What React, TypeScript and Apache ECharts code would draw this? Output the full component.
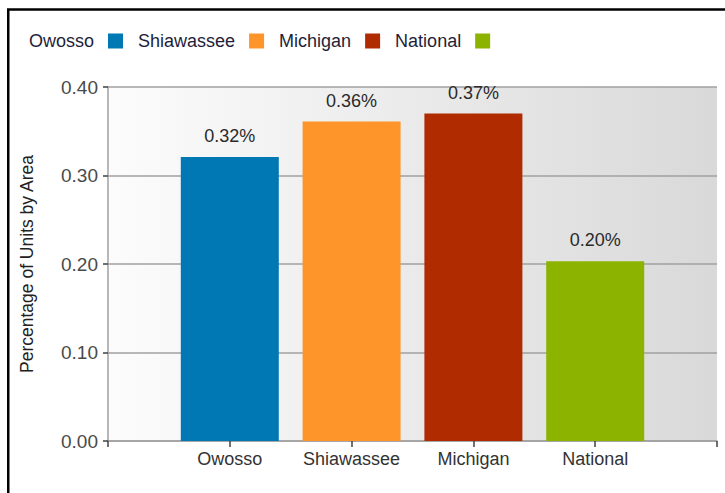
import React, { useEffect, useRef } from "react";
import * as echarts from "echarts";

const categories = ["Owosso", "Shiawassee", "Michigan", "National"];
const values = [0.321, 0.361, 0.37, 0.203];
const colors = ["#0078b4", "#fd952b", "#b02b00", "#8cb300"];
const yTicks = [0, 0.1, 0.2, 0.3, 0.4];
const yAxisTitle = "Percentage of Units by Area";

const FONT = "'Liberation Sans', Arial, sans-serif";

export default function App() {
  const ref = useRef<HTMLDivElement>(null);
  useEffect(() => {
    if (!ref.current) return;
    const chart = echarts.init(ref.current, null, { renderer: "svg" });
    const series = categories.map((name, i) => ({
      name,
      type: "bar",
      stack: "all",
      barWidth: 98,
      data: [[i + 1, values[i]]],
      itemStyle: { color: colors[i] },
      label: {
        show: true,
        position: "top",
        distance: 12,
        fontFamily: FONT,
        fontSize: 18,
        color: "#2a2a2a",
        formatter: (p: any) => p.value[1].toFixed(2) + "%",
      },
    }));
    chart.setOption({
      animation: false,
      backgroundColor: "#ffffff",
      textStyle: { fontFamily: FONT },
      legend: {
        left: 24,
        top: 27,
        align: "right",
        itemWidth: 15,
        itemHeight: 15,
        itemGap: 15,
        icon: "rect",
        data: categories,
        textStyle: {
          fontFamily: FONT,
          fontSize: 18,
          color: "#1e1e3a",
          padding: [0, 9, 0, 0],
        },
      },
      grid: {
        left: 108,
        right: 8,
        top: 87,
        bottom: 52,
        show: true,
        borderWidth: 0,
        backgroundColor: new echarts.graphic.LinearGradient(0, 0, 1, 0, [
          { offset: 0, color: "#fcfcfc" },
          { offset: 1, color: "#d9d9d9" },
        ]),
      },
      xAxis: {
        type: "value",
        min: 0,
        max: 5,
        interval: 1,
        splitLine: { show: false },
        axisLine: { show: true, lineStyle: { color: "#a0a0a0", width: 1.5 } },
        axisTick: { show: true, length: 6, lineStyle: { color: "#404040", width: 1.5 } },
        axisLabel: {
          fontFamily: FONT,
          fontSize: 18,
          color: "#333333",
          margin: 9,
          formatter: (v: number) => categories[v - 1] || "",
        },
      },
      yAxis: {
        type: "value",
        min: yTicks[0],
        max: yTicks[yTicks.length - 1],
        interval: 0.1,
        name: yAxisTitle,
        nameLocation: "middle",
        nameRotate: 90,
        nameGap: 72,
        nameTextStyle: { fontFamily: FONT, fontSize: 17.5, color: "#222222" },
        axisLine: { show: true, lineStyle: { color: "#a0a0a0", width: 1.5 } },
        axisTick: { show: true, length: 5, lineStyle: { color: "#404040", width: 1.5 } },
        splitLine: { show: true, lineStyle: { color: "#a0a0a0", width: 1.5 } },
        axisLabel: {
          fontFamily: FONT,
          fontSize: 19,
          color: "#4a4a4a",
          margin: 10,
          formatter: (v: number) => v.toFixed(2),
        },
      },
      graphic: [
        {
          type: "polyline",
          shape: { points: [[8.25, 493], [8.25, 9.5], [725, 9.5]] },
          style: { stroke: "#000000", lineWidth: 2.5, fill: "none" },
          z: 100,
        },
      ],
      series,
    });
    return () => chart.dispose();
  }, []);
  return (
    <div
      ref={ref}
      style={{ position: "fixed", left: 0, top: 0, width: 725, height: 493 }}
    />
  );
}
